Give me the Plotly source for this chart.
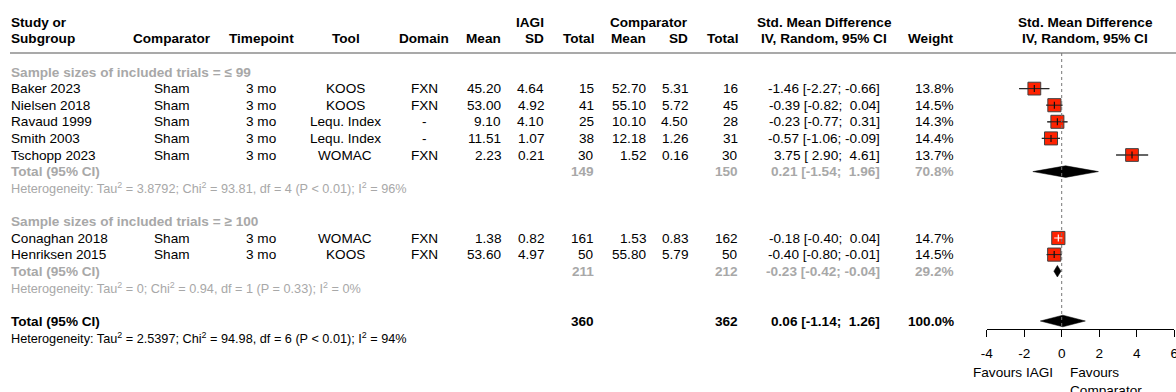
import plotly.graph_objects as go

# ---- study-level data -------------------------------------------------------
studies = ["Baker 2023", "Nielsen 2018", "Ravaud 1999", "Smith 2003", "Tschopp 2023",
           "Conaghan 2018", "Henriksen 2015"]
subgroup_of = [0, 0, 0, 0, 0, 1, 1]
comparator = ["Sham", "Sham", "Sham", "Sham", "Sham", "Sham", "Sham"]
timepoint = ["3 mo", "3 mo", "3 mo", "3 mo", "3 mo", "3 mo", "3 mo"]
tool = ["KOOS", "KOOS", "Lequ. Index", "Lequ. Index", "WOMAC", "WOMAC", "KOOS"]
domain = ["FXN", "FXN", "-", "-", "FXN", "FXN", "FXN"]
iagi_mean = [45.20, 53.00, 9.10, 11.51, 2.23, 1.38, 53.60]
iagi_sd = [4.64, 4.92, 4.10, 1.07, 0.21, 0.82, 4.97]
iagi_n = [15, 41, 25, 38, 30, 161, 50]
comp_mean = [52.70, 55.10, 10.10, 12.18, 1.52, 1.53, 55.80]
comp_sd = [5.31, 5.72, 4.50, 1.26, 0.16, 0.83, 5.79]
comp_n = [16, 45, 28, 31, 30, 162, 50]
smd = [-1.46, -0.39, -0.23, -0.57, 3.75, -0.18, -0.40]
ci_lo = [-2.27, -0.82, -0.77, -1.06, 2.90, -0.40, -0.80]
ci_hi = [-0.66, 0.04, 0.31, -0.09, 4.61, 0.04, -0.01]
weight = [13.8, 14.5, 14.3, 14.4, 13.7, 14.7, 14.5]

# ---- subgroup pooled results ------------------------------------------------
sub_titles = ["Sample sizes of included trials = \u2264 99",
              "Sample sizes of included trials = \u2265 100"]
sub_n1 = [149, 211]
sub_n2 = [150, 212]
sub_smd = [0.21, -0.23]
sub_lo = [-1.54, -0.42]
sub_hi = [1.96, -0.04]
sub_weight = [70.8, 29.2]
sub_het = ["Heterogeneity: Tau<sup>2</sup> = 3.8792; Chi<sup>2</sup> = 93.81, df = 4 (P < 0.01); I<sup>2</sup> = 96%",
           "Heterogeneity: Tau<sup>2</sup> = 0; Chi<sup>2</sup> = 0.94, df = 1 (P = 0.33); I<sup>2</sup> = 0%"]

# ---- overall pooled result --------------------------------------------------
tot_n1, tot_n2 = 360, 362
tot_smd, tot_lo, tot_hi, tot_weight = 0.06, -1.14, 1.26, 100.0
tot_het = "Heterogeneity: Tau<sup>2</sup> = 2.5397; Chi<sup>2</sup> = 94.98, df = 6 (P < 0.01); I<sup>2</sup> = 94%"

axis_ticks = [-4, -2, 0, 2, 4, 6]
axis_ticktext = ["-4", "-2", "0", "2", "4", "6"]
label_left = "Favours IAGI"
label_right = "Favours<br>Comparator"

# ---- layout constants -------------------------------------------------------
W, H = 1176, 392
FONT = "Liberation Sans, Arial, sans-serif"
FS = 13.6
FS_HET = 12.7
GRAY = "#A8A8A8"
ROW0_PX, ROW_PX = 72.0, 16.6
FOREST_L, FOREST_R = 986.7, 1174.2
AXIS_Y_PX = 329.0
HEADER_LINE_PX = 53.0
LEFT_PX = 10


def px2row(p):
    return (p - ROW0_PX) / ROW_PX


def fmt_ci(est, lo, hi):
    s = f"{est:.2f} [{lo:5.2f}; {hi:5.2f}]"
    return s.replace(" ", "\u00a0")


annotations = []


def text(px, row, s, anchor="left", color="black", bold=False, size=FS):
    if bold:
        s = f"<b>{s}</b>"
    annotations.append(dict(
        x=px / W, y=row, xref="paper", yref="y", text=s, showarrow=False,
        xanchor=anchor, yanchor="middle", borderpad=0,
        font=dict(family=FONT, size=size, color=color)))


# column anchors (pixel x) and alignment
COLS = dict(study=(LEFT_PX, "left"), comp=(172, "center"), time=(261, "center"),
            tool=(345, "center"), dom=(424, "center"), m1=(502, "right"),
            sd1=(545, "right"), n1=(595, "right"), m2=(647, "right"),
            sd2=(689, "right"), n2=(739, "right"), ci=(881, "right"),
            w=(955, "right"))

# ---- header -----------------------------------------------------------------
hdr1 = px2row(22.0)
hdr2 = px2row(38.5)
text(LEFT_PX, hdr1, "Study or", bold=True)
text(LEFT_PX, hdr2, "Subgroup", bold=True)
text(172, hdr2, "Comparator", "center", bold=True)
text(261, hdr2, "Timepoint", "center", bold=True)
text(346, hdr2, "Tool", "center", bold=True)
text(424, hdr2, "Domain", "center", bold=True)
text(COLS["m1"][0], hdr2, "Mean", "right", bold=True)
text(COLS["sd1"][0], hdr1, "IAGI", "right", bold=True)
text(COLS["sd1"][0], hdr2, "SD", "right", bold=True)
text(COLS["n1"][0], hdr2, "Total", "right", bold=True)
text(COLS["sd2"][0], hdr1, "Comparator", "right", bold=True)
text(COLS["m2"][0], hdr2, "Mean", "right", bold=True)
text(COLS["sd2"][0], hdr2, "SD", "right", bold=True)
text(COLS["n2"][0], hdr2, "Total", "right", bold=True)
text(824, hdr1, "Std. Mean Difference", "center", bold=True)
text(824, hdr2, "IV, Random, 95% CI", "center", bold=True)
text(COLS["w"][0], hdr2, "Weight", "right", bold=True)
text(1085, hdr1, "Std. Mean Difference", "center", bold=True)
text(1085, hdr2, "IV, Random, 95% CI", "center", bold=True)

# ---- table body + forest marks ---------------------------------------------
study_rows = []
sub_rows = []
row = 0
for g in range(len(sub_titles)):
    text(LEFT_PX, row, sub_titles[g], color=GRAY, bold=True)
    row += 1
    for i, sg in enumerate(subgroup_of):
        if sg != g:
            continue
        vals = dict(study=studies[i], comp=comparator[i], time=timepoint[i],
                    tool=tool[i], dom=domain[i], m1=f"{iagi_mean[i]:.2f}",
                    sd1=f"{iagi_sd[i]:.2f}", n1=str(iagi_n[i]),
                    m2=f"{comp_mean[i]:.2f}", sd2=f"{comp_sd[i]:.2f}",
                    n2=str(comp_n[i]), ci=fmt_ci(smd[i], ci_lo[i], ci_hi[i]),
                    w=f"{weight[i]:.1f}%")
        for k, v in vals.items():
            px, anc = COLS[k]
            text(px, row, v, anc)
        study_rows.append(row)
        row += 1
    text(LEFT_PX, row, "Total (95% CI)", color=GRAY, bold=True)
    text(COLS["n1"][0], row, str(sub_n1[g]), "right", GRAY, True)
    text(COLS["n2"][0], row, str(sub_n2[g]), "right", GRAY, True)
    text(COLS["ci"][0], row, fmt_ci(sub_smd[g], sub_lo[g], sub_hi[g]), "right", GRAY, True)
    text(COLS["w"][0], row, f"{sub_weight[g]:.1f}%", "right", GRAY, True)
    sub_rows.append(row)
    row += 1
    text(LEFT_PX, row, sub_het[g], color=GRAY, size=FS_HET)
    row += 2

tot_row = row
text(LEFT_PX, tot_row, "Total (95% CI)", bold=True)
text(COLS["n1"][0], tot_row, str(tot_n1), "right", bold=True)
text(COLS["n2"][0], tot_row, str(tot_n2), "right", bold=True)
text(COLS["ci"][0], tot_row, fmt_ci(tot_smd, tot_lo, tot_hi), "right", bold=True)
text(COLS["w"][0], tot_row, f"{tot_weight:.1f}%", "right", bold=True)
text(LEFT_PX, tot_row + 1, tot_het, size=FS_HET)

# axis side labels
text(1054, px2row(372.0), label_left, "right")
annotations.append(dict(
    x=1069 / W, y=px2row(364.0), xref="paper", yref="y", text=label_right,
    showarrow=False, xanchor="left", yanchor="top", align="left", borderpad=0,
    font=dict(family=FONT, size=FS, color="black")))

fig = go.Figure()

# forest: px per unit for deciding CI-line colour inside the squares
px_per_unit = (FOREST_R - FOREST_L) / (axis_ticks[-1] - axis_ticks[0])
SQ_BASE = 13.0
sq_sizes = [SQ_BASE * (w / 14.3) ** 0.5 for w in weight]

# confidence interval lines
for i, r in enumerate(study_rows):
    fig.add_trace(go.Scatter(
        x=[ci_lo[i], ci_hi[i]], y=[r, r], mode="lines",
        line=dict(color="#555555", width=1.2), hoverinfo="skip", showlegend=False))

# weighted squares
fig.add_trace(go.Scatter(
    x=smd, y=study_rows, mode="markers",
    marker=dict(symbol="square", size=sq_sizes, color="#FF2200", opacity=1,
                line=dict(color="#404040", width=1)),
    hoverinfo="skip", showlegend=False))

# CI segments redrawn over squares (white when the CI sits within the square)
for i, r in enumerate(study_rows):
    inside = (ci_hi[i] - ci_lo[i]) * px_per_unit < sq_sizes[i]
    fig.add_trace(go.Scatter(
        x=[ci_lo[i], ci_hi[i]], y=[r, r], mode="lines",
        line=dict(color="white" if inside else "#222222", width=1),
        hoverinfo="skip", showlegend=False))
    fig.add_trace(go.Scatter(
        x=[smd[i]], y=[r], mode="markers",
        marker=dict(symbol="line-ns", size=5, opacity=1,
                    line=dict(color="white" if inside else "#111111", width=1.2)),
        hoverinfo="skip", showlegend=False))

# pooled diamonds
DIAMOND_HALF = 5.8 / ROW_PX
for est, lo, hi, r in list(zip(sub_smd, sub_lo, sub_hi, sub_rows)) + [(tot_smd, tot_lo, tot_hi, tot_row)]:
    fig.add_trace(go.Scatter(
        x=[lo, est, hi, est, lo], y=[r, r - DIAMOND_HALF, r, r + DIAMOND_HALF, r],
        mode="lines", fill="toself", fillcolor="black",
        line=dict(color="black", width=0.5), hoverinfo="skip", showlegend=False))

shapes = [
    # rule under the column headers
    dict(type="line", xref="paper", yref="y", x0=LEFT_PX / W, x1=1.0,
         y0=px2row(HEADER_LINE_PX), y1=px2row(HEADER_LINE_PX),
         line=dict(color="#8C8C8C", width=1.5)),
    # line of no effect
    dict(type="line", xref="x", yref="y", x0=0, x1=0,
         y0=px2row(HEADER_LINE_PX), y1=px2row(AXIS_Y_PX),
         line=dict(color="#777777", width=1, dash="dot")),
]

fig.update_layout(
    width=W, height=H, margin=dict(l=0, r=0, t=0, b=0, autoexpand=False),
    paper_bgcolor="white", plot_bgcolor="rgba(0,0,0,0)",
    annotations=annotations, shapes=shapes,
    xaxis=dict(domain=[FOREST_L / W, FOREST_R / W], range=[axis_ticks[0], axis_ticks[-1]],
               anchor="free", position=1 - AXIS_Y_PX / H, automargin=False,
               showgrid=False, zeroline=False, showline=True, linecolor="black",
               linewidth=1, ticks="outside", ticklen=7, tickcolor="black",
               tickvals=axis_ticks, ticktext=axis_ticktext, ticklabelstandoff=5,
               ticklabeloverflow="allow",
               tickfont=dict(family=FONT, size=FS, color="black"), fixedrange=True),
    yaxis=dict(domain=[0, 1], range=[px2row(H), px2row(0)], visible=False,
               fixedrange=True, automargin=False),
)

fig.write_html("out.html")
